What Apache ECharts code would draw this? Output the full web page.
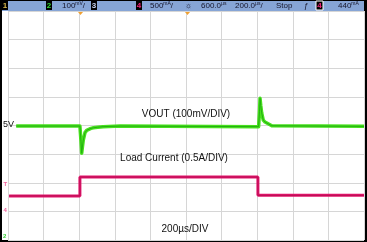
<!DOCTYPE html>
<html><head><meta charset="utf-8">
<script src="https://cdn.jsdelivr.net/npm/echarts@6/dist/echarts.min.js"></script>
<style>html,body{margin:0;padding:0;background:#000;}#c{width:367px;height:242px;}</style>
</head><body><div id="c"></div>
<script>
// time in divisions (200µs/DIV), level in divisions from bottom of screen
const voutTime  = [0.23, 2.02, 2.05, 2.07, 2.09, 2.115, 2.163, 2.21, 2.256, 2.33, 2.40, 2.52, 2.67, 3.15, 7.04, 7.065, 7.08, 7.10, 7.126, 7.17, 7.22, 7.27, 7.41, 10.0];
const voutLevel = [3.98, 3.98, 3.45, 3.03, 3.25, 3.49, 3.75, 3.83, 3.87, 3.90, 3.92, 3.94, 3.96, 3.98, 3.96, 4.50, 4.95, 4.70, 4.44, 4.19, 4.12, 4.08, 3.99, 3.97];
const loadTime  = [0.03, 2.02, 2.02, 7.02, 7.02, 10.0];
const loadLevel = [1.54, 1.54, 2.20, 2.20, 1.56, 1.56];
const labels = {vout:'VOUT (100mV/DIV)', load:'Load Current (0.5A/DIV)', time:'200µs/DIV', ref:'5V'};

const chart = echarts.init(document.getElementById('c'), null, {renderer:'canvas'});
const pair = (xs, ys) => xs.map((x,i)=>[x, ys[i]]);
const F = 'Liberation Sans, Arial, sans-serif';
const hdr = [];
function box(x, w, txt, col, outline){
  hdr.push({type:'rect', shape:{x:x, y:1, width:w, height:9}, style:{fill:'#000', stroke: outline?'#fff':null, lineWidth:1}, z:10});
  hdr.push({type:'text', x:x+w/2, y:5.5, style:{text:txt, fill:col, font:'bold 8px '+F, align:'center', verticalAlign:'middle'}, z:11});
}
function ht(x, num, unit, tail){
  const t = '{a|'+num+'}' + (unit?'{u|'+unit+'}':'') + (tail?'{a|'+tail+'}':'');
  hdr.push({type:'text', x:x, y:5.5, style:{text:t, fill:'#14142a', align:'left', verticalAlign:'middle',
    rich:{a:{font:'8px '+F, fill:'#14142a'}, u:{font:'5px '+F, fill:'#14142a', verticalAlign:'top'}}}, z:11});
}
chart.setOption({
  backgroundColor:'#000',
  animation:false,
  grid:{left:8, right:3, top:11, bottom:2},
  xAxis:{type:'value', min:0, max:10, interval:1, axisLine:{show:false}, axisTick:{show:false}, axisLabel:{show:false},
    splitLine:{show:true, lineStyle:{color:'#d6d6d6', width:1}}},
  yAxis:{type:'value', min:0, max:8, interval:1, axisLine:{show:false}, axisTick:{show:false}, axisLabel:{show:false},
    splitLine:{show:true, lineStyle:{color:'#d6d6d6', width:1}}},
  graphic:[
    {type:'rect', shape:{x:2, y:11, width:362, height:229}, style:{fill:'#fff'}, z:-10, silent:true},
    {type:'line', shape:{x1:8.5, y1:11, x2:8.5, y2:240}, style:{stroke:'#c8c8c8', lineWidth:1}, z:-5},
    {type:'rect', shape:{x:2, y:1, width:362, height:10}, style:{fill:'#86a5d6'}, z:9},
    ...(function(){
      box(2,6,'1','#d8b84c');
      box(46,6,'2','#33dd33');
      ht(62,'100','mV','/');
      box(91,6,'3','#c8d4f0');
      box(136,6,'4','#f0207a');
      ht(150,'500','mA','/');
      ht(185,'☼');
      ht(201,'600.0','µs');
      ht(235,'200.0','µs','/');
      ht(276,'Stop');
      ht(304,'ƒ');
      box(316,7,'4','#f0207a',true);
      ht(338,'440','mA');
      return hdr;
    })(),
    {type:'polygon', shape:{points:[[78,12],[83,12],[80.5,15]]}, style:{fill:'#f0a030'}, z:12},
    {type:'polygon', shape:{points:[[185,12],[190,12],[187.5,15]]}, style:{fill:'#f0a030'}, z:12},
    {type:'text', x:3, y:125, style:{text:labels.ref, fill:'#111', font:'9px '+F, verticalAlign:'middle'}, z:12},
    {type:'text', x:186, y:114, style:{text:labels.vout, fill:'#111', font:'10px '+F, align:'center', verticalAlign:'middle'}, z:12},
    {type:'text', x:174, y:158.5, style:{text:labels.load, fill:'#111', font:'10px '+F, align:'center', verticalAlign:'middle'}, z:12},
    {type:'text', x:185, y:229, style:{text:labels.time, fill:'#111', font:'10px '+F, align:'center', verticalAlign:'middle'}, z:12},
    {type:'text', x:3.5, y:184, style:{text:'T', fill:'#f0609a', font:'bold 6px '+F, verticalAlign:'middle'}, z:12},
    {type:'text', x:3.5, y:210, style:{text:'4', fill:'#f0609a', font:'bold 6px '+F, verticalAlign:'middle'}, z:12},
    {type:'text', x:3, y:236, style:{text:'2', fill:'#33cc33', font:'bold 6px '+F, verticalAlign:'middle'}, z:12}
  ],
  series:[
    {type:'line', data:pair(loadTime, loadLevel), showSymbol:false, lineStyle:{color:'#e3146c', width:3}, z:3},
    {type:'line', data:pair(loadTime, loadLevel), showSymbol:false, lineStyle:{color:'#b80f52', width:1}, z:4},
    {type:'line', data:pair(voutTime, voutLevel), showSymbol:false, lineStyle:{color:'#48e01e', width:3.5, join:'round'}, z:5},
    {type:'line', data:pair(voutTime, voutLevel), showSymbol:false, lineStyle:{color:'#22b010', width:1}, z:6}
  ]
});
</script></body></html>
